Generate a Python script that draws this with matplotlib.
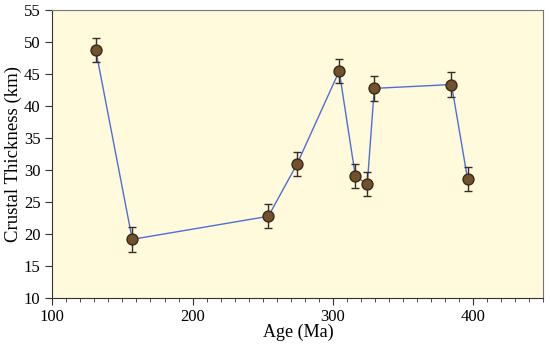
import matplotlib
matplotlib.use("Agg")
import matplotlib.pyplot as plt
from matplotlib.ticker import MultipleLocator

# === Data ===
age = [131, 157, 254, 274.5, 304.5, 316, 324.5, 329.5, 384.5, 396]
thickness = [48.7, 19.1, 22.7, 30.9, 45.4, 29.0, 27.7, 42.7, 43.3, 28.5]
err = [1.9, 1.9, 1.9, 1.9, 1.9, 1.9, 1.9, 1.9, 1.9, 1.9]

plt.rcParams['font.family'] = ['Liberation Serif', 'DejaVu Serif']

fig = plt.figure(figsize=(5.5, 3.46), dpi=100)
ax = fig.add_axes([0.095, 0.14, 0.893, 0.832])
ax.set_facecolor('#fffadb')

# connecting line
ax.plot(age, thickness, color='#4d6fd8', linewidth=1.0, zorder=2)

# error bars
ax.errorbar(age, thickness, yerr=err, fmt='none', ecolor='#3b2b2b',
            elinewidth=1.0, capsize=3, capthick=1.0, zorder=3)

# markers
ax.scatter(age, thickness, s=62, color='#72522c', edgecolor='#3a2a1a',
           linewidth=1.0, zorder=4)

ax.set_xlim(100, 450)
ax.set_ylim(10, 55)
ax.xaxis.set_major_locator(MultipleLocator(100))
ax.xaxis.set_minor_locator(MultipleLocator(10))
ax.yaxis.set_major_locator(MultipleLocator(5))
ax.tick_params(axis='both', which='major', direction='out', length=5,
               labelsize=12, color='#333333')
ax.tick_params(axis='x', which='minor', direction='out', length=3, color='#333333')

for side in ['left', 'bottom']:
    ax.spines[side].set_color('#333333')
for side in ['top', 'right']:
    ax.spines[side].set_color('#777777')

ax.set_xlabel('Age (Ma)', fontsize=13, labelpad=-1)
ax.set_ylabel('Crustal Thickness (km)', fontsize=13.5, labelpad=1)

plt.savefig('out.png', dpi=100)
